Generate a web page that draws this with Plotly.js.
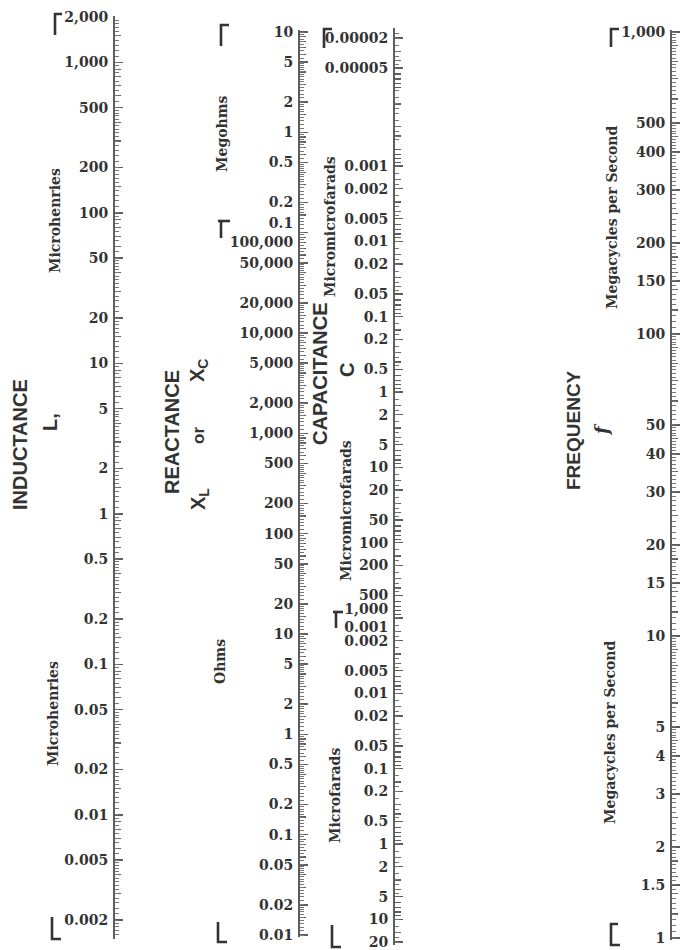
<!DOCTYPE html>
<html>
<head>
<meta charset="utf-8">
<script src="https://cdn.plot.ly/plotly-3.0.1.min.js"></script>
<style>
  html, body { margin: 0; padding: 0; background: #ffffff; }
  #chart { width: 682px; height: 950px; }
</style>
</head>
<body>
<div id="chart"></div>
<script>
// ---- scale values and their printed labels ----
// Inductance, microhenries
const inductanceTicks = [2000, 1000, 500, 200, 100, 50, 20, 10, 5, 2, 1, 0.5, 0.2, 0.1, 0.05, 0.02, 0.01, 0.005, 0.002];
const inductanceLabels = ['2,000', '1,000', '500', '200', '100', '50', '20', '10', '5', '2', '1', '0.5', '0.2', '0.1', '0.05', '0.02', '0.01', '0.005', '0.002'];

// Reactance, ohms (upper part printed in megohms)
const reactanceTicks = [1e7, 5e6, 2e6, 1e6, 5e5, 2e5, 1e5, 5e4, 2e4, 1e4, 5000, 2000, 1000, 500, 200, 100, 50, 20, 10, 5, 2, 1, 0.5, 0.2, 0.1, 0.05, 0.02, 0.01];
const reactanceLabels = ['10', '5', '2', '1', '0.5', '0.2', '0.1<br>100,000', '50,000', '20,000', '10,000', '5,000', '2,000', '1,000', '500', '200', '100', '50', '20', '10', '5', '2', '1', '0.5', '0.2', '0.1', '0.05', '0.02', '0.01'];

// Capacitance, micromicrofarads (lower part printed in microfarads)
const capacitanceTicks = [2e-5, 5e-5, 1e-3, 2e-3, 5e-3, 0.01, 0.02, 0.05, 0.1, 0.2, 0.5, 1, 2, 5, 10, 20, 50, 100, 200, 500, 1000, 2000, 5000, 1e4, 2e4, 5e4, 1e5, 2e5, 5e5, 1e6, 2e6, 5e6, 1e7, 2e7];
const capacitanceLabels = ['0.00002', '0.00005', '0.001', '0.002', '0.005', '0.01', '0.02', '0.05', '0.1', '0.2', '0.5', '1', '2', '5', '10', '20', '50', '100', '200', '500', '1,000<br>0.001', '0.002', '0.005', '0.01', '0.02', '0.05', '0.1', '0.2', '0.5', '1', '2', '5', '10', '20'];

// Frequency, megacycles per second
const frequencyTicks = [1000, 500, 400, 300, 200, 150, 100, 50, 40, 30, 20, 15, 10, 5, 4, 3, 2, 1.5, 1];
const frequencyLabels = ['1,000', '500', '400', '300', '200', '150', '100', '50', '40', '30', '20', '15', '10', '5', '4', '3', '2', '1.5', '1'];

// ---- page geometry ----
const W = 682, H = 950;
const INK = '#333333';
const RULE = '#5e5e5e';
const tickFont = { family: 'DejaVu Serif', size: 14, color: INK, weight: 700 };
const unitFont = { family: 'DejaVu Serif', size: 14, color: INK, weight: 700 };
const headFont = { family: 'Liberation Sans', size: 20, color: INK, weight: 700 };

// each scale: two calibration points (value, pixel row), line extent and column
const scales = [
  { ticks: inductanceTicks, labels: inductanceLabels, a: [2000, 17], b: [0.002, 920], top: 16, bot: 939, col: 115,
    medium: [1.5, 3, 4, 6, 7, 8, 9], fine: [[1, 2, 0.1], [2, 5, 0.2], [5, 10, 0.5]] },
  { ticks: reactanceTicks, labels: reactanceLabels, a: [1e7, 32], b: [0.01, 935], top: 30, bot: 937, col: 300,
    medium: [1.5, 3, 4, 6, 7, 8, 9], fine: [[1, 2, 0.1], [2, 5, 0.2], [5, 10, 0.5]] },
  { ticks: capacitanceTicks, labels: capacitanceLabels, a: [2e-5, 38], b: [2e7, 942], top: 28, bot: 945, col: 395,
    medium: [1.5, 3, 4, 6, 7, 8, 9], fine: [[1, 2, 0.25], [2, 5, 0.5]] },
  { ticks: frequencyTicks, labels: frequencyLabels, a: [1000, 32], b: [1, 938], top: 30, bot: 940, col: 672,
    medium: [1.2, 1.4, 1.6, 1.8, 2.5, 3.5, 4.5, 6, 7, 8, 9], fine: [[1, 2, 0.05], [2, 5, 0.1], [5, 10, 0.2]] }
];

function logAt(s, px) {
  const la = Math.log10(s.a[0]), lb = Math.log10(s.b[0]);
  return la + (px - s.a[1]) * (lb - la) / (s.b[1] - s.a[1]);
}

// ruler subdivisions repeated in every decade of a scale
function stepMantissas(spec) {
  const out = [];
  spec.forEach(([from, to, step]) => {
    for (let m = from; m < to - 1e-9; m += step) out.push(+m.toFixed(4));
  });
  return out;
}
function perDecade(lo, hi, mantissas) {
  const out = [];
  for (let k = Math.floor(lo) - 1; k <= Math.ceil(hi) + 1; k++) {
    mantissas.forEach(m => {
      const v = +(m * Math.pow(10, k)).toPrecision(6);
      const lv = Math.log10(v);
      if (lv >= lo - 1e-6 && lv <= hi + 1e-6) out.push(v);
    });
  }
  return out;
}

const traces = [];
const layout = {
  width: W, height: H,
  margin: { l: 0, r: 0, t: 0, b: 0 },
  paper_bgcolor: '#ffffff',
  plot_bgcolor: 'rgba(0,0,0,0)',
  showlegend: false,
  hovermode: false,
  annotations: [],
  shapes: []
};

scales.forEach((s, i) => {
  const n = i + 1;
  const over = n + 4;
  const xName = n === 1 ? 'x' : 'x' + n;
  const yName = n === 1 ? 'y' : 'y' + n;
  const yOver = 'y' + over;
  const r = [logAt(s, s.bot), logAt(s, s.top)];
  const lo = Math.min(r[0], r[1]), hi = Math.max(r[0], r[1]);
  const domain = [1 - s.bot / H, 1 - s.top / H];

  layout['xaxis' + (n === 1 ? '' : n)] = {
    domain: [s.col / W, (s.col + 20) / W], range: [0, 1], visible: false, fixedrange: true, anchor: yName
  };
  layout['yaxis' + (n === 1 ? '' : n)] = {
    type: 'log', range: r, domain: domain, anchor: xName, side: 'left',
    showline: true, linecolor: RULE, linewidth: 2,
    showgrid: false, zeroline: false, fixedrange: true,
    tickmode: 'array', tickvals: s.ticks, ticktext: s.labels,
    ticks: 'inside', ticklen: 8, tickwidth: 1.6, tickcolor: RULE,
    tickfont: tickFont, ticklabelstandoff: 2,
    minor: { tickmode: 'array', tickvals: perDecade(lo, hi, s.medium), ticks: 'inside', ticklen: 6, tickwidth: 1.2, tickcolor: RULE, showgrid: false }
  };
  layout['yaxis' + over] = {
    type: 'log', range: r, overlaying: yName, anchor: xName, side: 'left',
    showline: false, showgrid: false, zeroline: false, fixedrange: true,
    showticklabels: false,
    tickmode: 'array', tickvals: perDecade(lo, hi, stepMantissas(s.fine)),
    ticks: 'inside', ticklen: 3.5, tickwidth: 1, tickcolor: '#777777'
  };

  // invisible carriers so both axes of the column are laid out
  traces.push({ type: 'scatter', mode: 'markers', x: s.ticks.map(() => 0.5), y: s.ticks,
    xaxis: xName, yaxis: yName, marker: { opacity: 0 }, hoverinfo: 'skip' });
  traces.push({ type: 'scatter', mode: 'markers', x: s.ticks.map(() => 0.5), y: s.ticks,
    xaxis: xName, yaxis: yOver, marker: { opacity: 0 }, hoverinfo: 'skip' });
});

// ---- headings and unit names, set sideways ----
function label(text, px, py, font) {
  layout.annotations.push({
    text: text, x: px / W, y: 1 - py / H, xref: 'paper', yref: 'paper',
    xanchor: 'center', yanchor: 'middle', textangle: -90, showarrow: false, font: font
  });
}
label('INDUCTANCE', 20, 445, headFont);
label('L,', 50, 422, headFont);
label('Microhenries', 55, 221, unitFont);
label('Microhenries', 53, 714, unitFont);

label('REACTANCE', 172, 432, headFont);
label('X<sub>L</sub>', 199, 499, headFont);
label('or', 199, 436, Object.assign({}, headFont, { size: 17 }));
label('X<sub>C</sub>', 199, 371, headFont);
label('Megohms', 222, 134, unitFont);
label('Ohms', 220, 662, unitFont);

label('CAPACITANCE', 320, 374, headFont);
label('C', 347, 370, headFont);
label('Micromicrofarads', 330, 227, unitFont);
label('Micromicrofarads', 346, 511, unitFont);
label('Microfarads', 335, 796, unitFont);

label('FREQUENCY', 573, 430, Object.assign({}, headFont, { size: 19 }));
label('<i>f</i>', 601, 430, { family: 'DejaVu Serif', size: 18, color: INK, weight: 700 });
label('Megacycles per Second', 612, 218, unitFont);
label('Megacycles per Second', 610, 733, unitFont);

// ---- range brackets marking where each set of units begins and ends ----
function bracket(points) {
  const d = points.map((p, k) => (k === 0 ? 'M' : 'L') + ' ' + (p[0] / W).toFixed(5) + ',' + (1 - p[1] / H).toFixed(5)).join(' ');
  layout.shapes.push({ type: 'path', path: d, xref: 'paper', yref: 'paper', line: { color: INK, width: 2.6 } });
}
bracket([[55, 35], [55, 14], [62, 14]]);
bracket([[52, 917], [52, 939], [61, 939]]);
bracket([[221, 46], [221, 25], [229, 25]]);
bracket([[218, 221], [230, 221]]);
bracket([[221, 221], [221, 238]]);
bracket([[218, 922], [218, 942], [227, 942]]);
bracket([[324, 48], [324, 29], [332, 29]]);
bracket([[333, 612], [343, 612]]);
bracket([[336, 612], [336, 628]]);
bracket([[332, 925], [332, 947], [341, 947]]);
bracket([[611, 47], [611, 29], [619, 29]]);
bracket([[618, 924], [611, 924], [611, 945], [620, 945]]);

Plotly.newPlot('chart', traces, layout, { staticPlot: true, displayModeBar: false });
</script>
</body>
</html>
